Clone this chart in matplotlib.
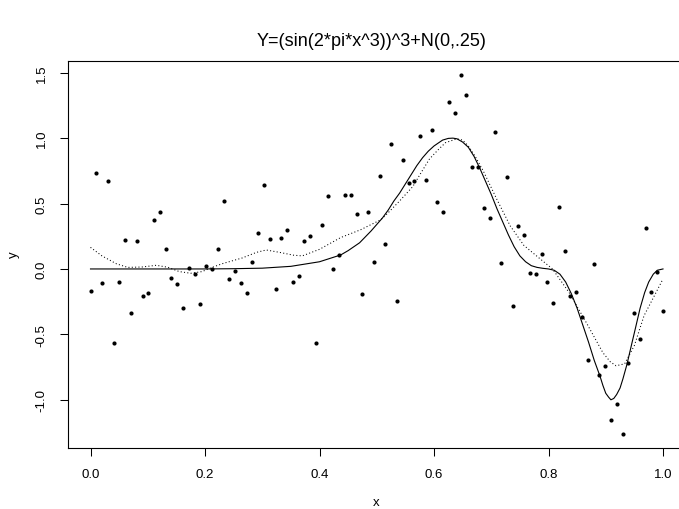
import matplotlib
matplotlib.use("Agg")
import matplotlib.pyplot as plt
import numpy as np

# observed points, x = 0 .. 1 in 100 steps
x_obs = np.linspace(0, 1, 100)
y_obs = [
    -0.17, 0.73, -0.107, 0.67, -0.565, -0.10, 0.22, -0.335, 0.213, -0.206,
    -0.183, 0.374, 0.435, 0.153, -0.069, -0.114, -0.298, 0.008, -0.038, -0.267,
    0.023, 0.0, 0.153, 0.519, -0.076, -0.018, -0.107, -0.183, 0.051, 0.275,
    0.641, 0.229, -0.153, 0.236, 0.297, -0.099, -0.053, 0.213, 0.252, -0.565,
    0.336, 0.557, 0.0, 0.107, 0.564, 0.564, 0.42, -0.191, 0.435, 0.053,
    0.709, 0.191, 0.953, -0.242, 0.831, 0.656, 0.671, 1.014, 0.679, 1.060,
    0.511, 0.435, 1.274, 1.19, 1.48, 1.327, 0.778, 0.778, 0.465, 0.389,
    1.045, 0.046, 0.702, -0.282, 0.328, 0.259, -0.031, -0.038, 0.114, -0.099,
    -0.259, 0.473, 0.137, -0.206, -0.175, -0.366, -0.694, 0.038, -0.81, -0.74,
    -1.152, -1.03, -1.259, -0.717, -0.336, -0.534, 0.313, -0.175, -0.023, -0.32,
]

# true curve (solid)
x_true = [0.0, 0.1, 0.2, 0.25, 0.30, 0.35, 0.40, 0.437, 0.45, 0.47, 0.48, 0.49,
          0.50, 0.51, 0.52, 0.53, 0.54, 0.55, 0.56, 0.57, 0.58, 0.59, 0.60,
          0.615, 0.625, 0.633, 0.64, 0.65, 0.66, 0.67, 0.68, 0.69, 0.70, 0.71,
          0.72, 0.73, 0.74, 0.75, 0.76, 0.77, 0.78, 0.79, 0.80, 0.81, 0.82,
          0.83, 0.84, 0.85, 0.86, 0.87, 0.88, 0.89, 0.895, 0.90, 0.905, 0.909,
          0.914, 0.919, 0.925, 0.93, 0.937, 0.945, 0.952, 0.96, 0.968, 0.975,
          0.983, 0.99, 1.0]
y_true = [0.0, 0.0, 0.0, 0.002, 0.006, 0.02, 0.055, 0.107, 0.14, 0.2, 0.245, 0.29,
          0.34, 0.39, 0.45, 0.52, 0.58, 0.65, 0.72, 0.79, 0.85, 0.90, 0.94,
          0.985, 0.998, 1.0, 0.995, 0.97, 0.93, 0.86, 0.77, 0.67, 0.57, 0.46,
          0.36, 0.26, 0.17, 0.10, 0.055, 0.025, 0.012, 0.005, 0.0, -0.01, -0.04,
          -0.10, -0.19, -0.30, -0.43, -0.56, -0.70, -0.82, -0.89, -0.95, -0.98, -1.0,
          -0.99, -0.96, -0.91, -0.84, -0.73, -0.58, -0.45, -0.30, -0.18, -0.10,
          -0.04, -0.01, 0.0]

# smoothed fit (dotted)
x_fit = [0.0, 0.02, 0.045, 0.065, 0.09, 0.115, 0.135, 0.155, 0.175, 0.195, 0.21,
         0.23, 0.265, 0.29, 0.307, 0.33, 0.355, 0.37, 0.40, 0.437, 0.472, 0.507,
         0.52, 0.54, 0.563, 0.578, 0.592, 0.607, 0.62, 0.64, 0.65, 0.66, 0.672,
         0.686, 0.71, 0.733, 0.757, 0.779, 0.807, 0.836, 0.866, 0.895, 0.908,
         0.918, 0.933, 0.95, 0.967, 0.985, 1.0]
y_fit = [0.165, 0.10, 0.04, 0.012, 0.015, 0.028, 0.013, -0.02, -0.033, -0.02, 0.008,
         0.04, 0.084, 0.127, 0.145, 0.127, 0.105, 0.10, 0.15, 0.24, 0.30, 0.376,
         0.43, 0.52, 0.63, 0.74, 0.84, 0.91, 0.965, 0.995, 0.985, 0.94, 0.86,
         0.75, 0.53, 0.33, 0.18, 0.10, 0.0, -0.18, -0.41, -0.64, -0.71,
         -0.74, -0.725, -0.585, -0.356, -0.204, -0.076]

plt.rcParams['font.family'] = ['Liberation Sans', 'DejaVu Sans']

fig = plt.figure(figsize=(6.79, 5.10), dpi=100)
ax = fig.add_axes([67.6 / 679, 61 / 510, 618.3 / 679, 387 / 510])

ax.plot(x_obs, y_obs, "o", color="black", markersize=3.0, markeredgewidth=0)
ax.plot(x_true, y_true, "-", color="black", linewidth=0.8)
ax.plot(x_fit, y_fit, color="black", linewidth=0.75, linestyle=(0, (1, 2.2)))

# R style ranges (4% padding)
ymin, ymax = min(y_obs), max(y_obs)
pad = 0.04 * (ymax - ymin)
ax.set_xlim(-0.04, 1.04)
ax.set_ylim(ymin - pad, ymax + pad)

ax.set_xticks([0.0, 0.2, 0.4, 0.6, 0.8, 1.0])
ax.set_xticklabels(["0.0", "0.2", "0.4", "0.6", "0.8", "1.0"])
ax.set_yticks([-1.0, -0.5, 0.0, 0.5, 1.0, 1.5])
ax.set_yticklabels(["-1.0", "-0.5", "0.0", "0.5", "1.0", "1.5"], rotation=90, va="center")
ax.tick_params(direction="out", length=5.5, width=0.75, labelsize=9.5, pad=9)
ax.tick_params(axis="y", pad=9)
for s in ax.spines.values():
    s.set_linewidth(0.8)

fig.text(376 / 679, 1 - 503 / 510, "x", ha="center", va="center", fontsize=9.5)
fig.text(14 / 679, 1 - 255 / 510, "y", ha="center", va="center", fontsize=9.5,
         rotation=90)
fig.text(372 / 679, 1 - 42 / 510, "Y=(sin(2*pi*x^3))^3+N(0,.25)", ha="center",
         va="center", fontsize=13)

plt.savefig("out.png", dpi=100)
